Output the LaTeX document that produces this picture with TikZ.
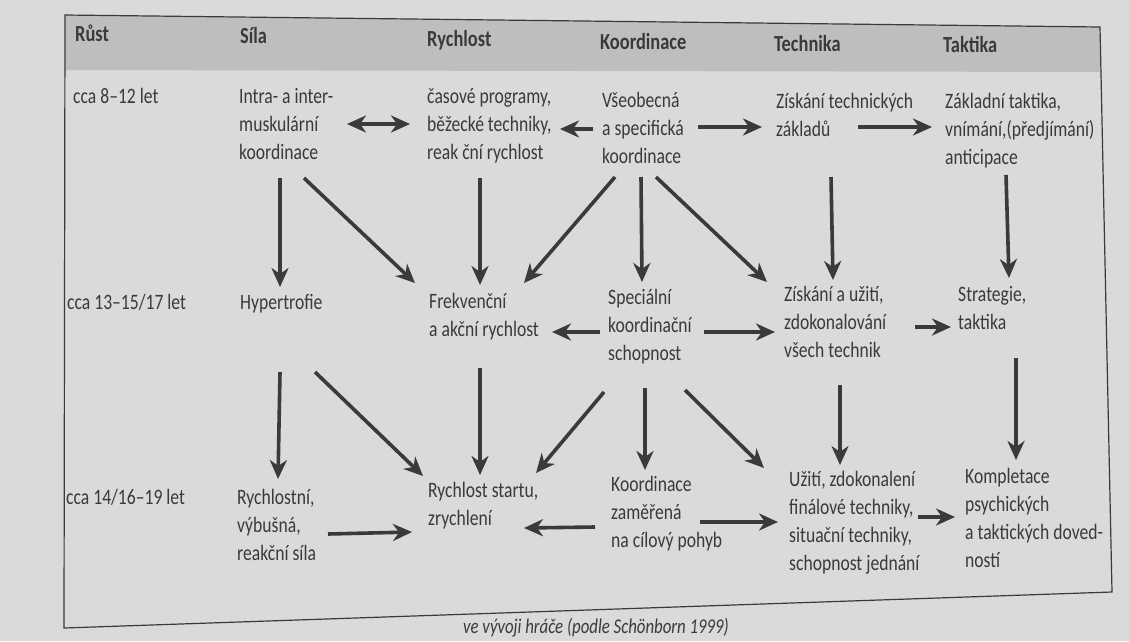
\documentclass[tikz,border=0pt]{standalone}
\usepackage{fontspec}
\setmainfont{Carlito}[FakeStretch=0.8]
\usetikzlibrary{arrows.meta}
\definecolor{pagegray}{RGB}{218,218,216}
\definecolor{bandgray}{RGB}{190,190,188}
\definecolor{inkgray}{RGB}{58,58,58}
\tikzset{
>={Stealth[length=19pt,width=17pt,inset=6pt]}, % wide concave heads
cell/.style={anchor=north west, inner sep=0pt, align=left, text=inkgray, font=\fontsize{22}{28}\selectfont}, % text of one table cell
head/.style={cell, font=\fontsize{23}{28}\selectfont\bfseries}, % column heads
flow/.style={->, line width=3.6pt, draw=inkgray}, % the thick arrows
}

\begin{document}
\begin{tikzpicture}[x=1pt, y=-1pt]
      \useasboundingbox[fill=pagegray] (0,0) rectangle (1129,641);
      % frame of the table, shaded head row
      \fill[bandgray] (65,15) -- (1100,27) -- (1100,72) -- (65,70) -- cycle;
      \draw[inkgray, line width=1.2pt] (65,15) -- (1100,27) -- (1112,592) -- (64,628) -- cycle;

      \node[head] (rust) at (75,25) {Růst};
      \node[head] (sila) at (240,27) {Síla};
      \node[head] (rychlost) at (427,30) {Rychlost};
      \node[head] (koordinace) at (600,33) {Koordinace};
      \node[head] (technika) at (774,35) {Technika};
      \node[head] (taktika) at (943,36) {Taktika};

      \node[cell] (age1) at (73,88) {cca 8–12 let};
      \node[cell] (age2) at (67,294) {cca 13–15/17 let};
      \node[cell] (age3) at (66,489) {cca 14/16–19 let};

      \node[cell] (sila1) at (239,88) {Intra- a inter-\\muskulární\\koordinace};
      \node[cell] (rych1) at (427,88) {časové programy,\\běžecké techniky,\\reak ční rychlost};
      \node[cell] (koord1) at (602,92) {Všeobecná\\a specifická\\koordinace};
      \node[cell] (tech1) at (776,93) {Získání technických\\základů};
      \node[cell] (takt1) at (945,93) {Základní taktika,\\vnímání,(předjímání)\\anticipace};

      \node[cell] (sila2) at (240,294) {Hypertrofie};
      \node[cell] (rych2) at (429,293) {Frekvenční\\a akční rychlost};
      \node[cell] (koord2) at (608,289) {Speciální\\koordinační\\schopnost};
      \node[cell] (tech2) at (784,286) {Získání a užití,\\zdokonalování\\všech technik};
      \node[cell] (takt2) at (958,286) {Strategie,\\taktika};

      \node[cell] (sila3) at (237,489) {Rychlostní,\\výbušná,\\reakční síla};
      \node[cell] (rych3) at (428,482) {Rychlost startu,\\zrychlení};
      \node[cell] (koord3) at (611,476) {Koordinace\\zaměřená\\na cílový pohyb};
      \node[cell] (tech3) at (789,471) {Užití, zdokonalení\\finálové techniky,\\situační techniky,\\schopnost jednání};
      \node[cell] (takt3) at (965,468) {Kompletace\\psychických\\a taktických doved-\\ností};

      \node[cell, anchor=north east, font=\fontsize{21}{26}\selectfont\itshape] (zdroj) at (729,618) {ve vývoji hráče (podle Schönborn 1999)};

      % arrows inside the rows
      \draw[flow, <->] ([shift={(108,36)}]sila1.north west) -- ([shift={(-17,36)}]rych1.north west);
      \draw[flow] ([shift={(-9,37)}]koord1.north west) -- ([shift={(133,41)}]rych1.north west);
      \draw[flow] ([shift={(96,35)}]koord1.north west) -- ([shift={(-14,34)}]tech1.north west);
      \draw[flow] ([shift={(82,34)}]tech1.north west) -- ([shift={(-13,34)}]takt1.north west);

      \draw[flow] ([shift={(-8,43)}]koord2.north west) -- ([shift={(123,39)}]rych2.north west);
      \draw[flow] ([shift={(96,43)}]koord2.north west) -- ([shift={(-9,46)}]tech2.north west);
      \draw[flow] ([shift={(131,41)}]tech2.north west) -- ([shift={(-7,41)}]takt2.north west);

      \draw[flow] ([shift={(91,45)}]sila3.north west) -- ([shift={(-16,50)}]rych3.north west);
      \draw[flow] ([shift={(-16,51)}]koord3.north west) -- ([shift={(96,46)}]rych3.north west);
      \draw[flow] ([shift={(89,46)}]koord3.north west) -- ([shift={(-11,51)}]tech3.north west);
      \draw[flow] ([shift={(129,46)}]tech3.north west) -- ([shift={(-10,49)}]takt3.north west);

      % arrows from row to row
      \draw[flow] ([shift={(41,90)}]sila1.north west) -- ([shift={(40,-7)}]sila2.north west);
      \draw[flow] ([shift={(65,90)}]sila1.north west) -- ([shift={(-14,-10)}]rych2.north west);
      \draw[flow] ([shift={(53,90)}]rych1.north west) -- ([shift={(51,-8)}]rych2.north west);
      \draw[flow] ([shift={(13,85)}]koord1.north west) -- ([shift={(95,-10)}]rych2.north west);
      \draw[flow] ([shift={(39,85)}]koord1.north west) -- ([shift={(34,-7)}]koord2.north west);
      \draw[flow] ([shift={(54,85)}]koord1.north west) -- ([shift={(-17,-4)}]tech2.north west);
      \draw[flow] ([shift={(55,84)}]tech1.north west) -- ([shift={(49,-6)}]tech2.north west);
      \draw[flow] ([shift={(61,82)}]takt1.north west) -- ([shift={(51,-8)}]takt2.north west);

      \draw[flow] ([shift={(40,78)}]sila2.north west) -- ([shift={(41,-10)}]sila3.north west);
      \draw[flow] ([shift={(75,78)}]sila2.north west) -- ([shift={(-5,-6)}]rych3.north west);
      \draw[flow] ([shift={(51,75)}]rych2.north west) -- ([shift={(52,-7)}]rych3.north west);
      \draw[flow] ([shift={(-4,103)}]koord2.north west) -- ([shift={(108,-9)}]rych3.north west);
      \draw[flow] ([shift={(37,99)}]koord2.north west) -- ([shift={(34,-6)}]koord3.north west);
      \draw[flow] ([shift={(77,101)}]koord2.north west) -- ([shift={(-25,-3)}]tech3.north west);
      \draw[flow] ([shift={(56,99)}]tech2.north west) -- ([shift={(51,-6)}]tech3.north west);
      \draw[flow] ([shift={(58,72)}]takt2.north west) -- ([shift={(51,-8)}]takt3.north west);
\end{tikzpicture}
\end{document}
